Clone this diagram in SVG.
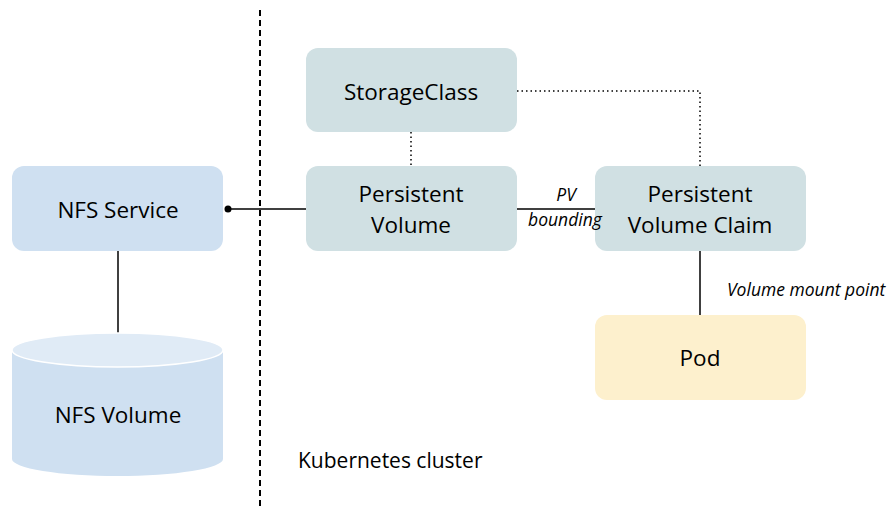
<svg xmlns="http://www.w3.org/2000/svg" width="893" height="507" viewBox="0 0 893 507">
<style>
.k8s{fill:#d0e0e3}
.nfs{fill:#cfe0f1}
.pod{fill:#fdf0cd}
text{font-family:"Open Sans","Liberation Sans",sans-serif;fill:#000}
.lbl{font-size:22.5px;text-anchor:middle}
.it{font-size:17.5px;font-style:italic}
.ln{stroke:#000;stroke-width:1.5;fill:none}
.dot{stroke:#000;stroke-width:1.5;stroke-dasharray:1.5 3;fill:none}
</style>
<rect width="893" height="507" fill="#fff"/>
<line x1="260" y1="10" x2="260" y2="507" stroke="#000" stroke-width="2" stroke-dasharray="6 4"/>
<g id="connectors">
<line class="ln" x1="118" y1="251" x2="118" y2="333"/>
<line class="ln" x1="228" y1="209" x2="306" y2="209"/>
<circle cx="228" cy="209" r="3.5" fill="#000"/>
<line class="ln" x1="517" y1="209" x2="595" y2="209"/>
<line class="ln" x1="700" y1="251" x2="700" y2="315"/>
<line class="dot" x1="411" y1="132" x2="411" y2="166"/>
<polyline class="dot" points="517,91 700,91 700,166"/>
</g>
<g id="nfs-service">
<rect class="nfs" x="12" y="166" width="211" height="85" rx="12"/>
<text class="lbl" x="118" y="218">NFS Service</text>
</g>
<g id="nfs-volume">
<path class="nfs" d="M12,350 L12,459 A105.5,17 0 0 0 223,459 L223,350 Z"/>
<ellipse cx="117.5" cy="350" rx="105.5" ry="17" fill="#e0ebf6" stroke="#fff" stroke-width="1.5"/>
<text class="lbl" x="118" y="423">NFS Volume</text>
</g>
<g id="storageclass">
<rect class="k8s" x="306" y="48" width="211" height="84" rx="12"/>
<text class="lbl" x="411" y="100">StorageClass</text>
</g>
<g id="pv">
<rect class="k8s" x="306" y="166" width="211" height="85" rx="12"/>
<text class="lbl" x="411" y="202">Persistent</text>
<text class="lbl" x="411" y="233">Volume</text>
</g>
<g id="pvc">
<rect class="k8s" x="595" y="166" width="211" height="85" rx="12"/>
<text class="lbl" x="700" y="202">Persistent</text>
<text class="lbl" x="700" y="233">Volume Claim</text>
</g>
<g id="pod">
<rect class="pod" x="595" y="315" width="211" height="85" rx="12"/>
<text class="lbl" x="700" y="366">Pod</text>
</g>
<g id="connector-labels">
<text class="it" x="566" y="201" text-anchor="middle">PV</text>
<text class="it" x="565" y="226" text-anchor="middle">bounding</text>
<text class="it" x="727" y="296" font-size="17.8">Volume mount point</text>
</g>
<text x="298" y="468" font-size="21">Kubernetes cluster</text>
</svg>
